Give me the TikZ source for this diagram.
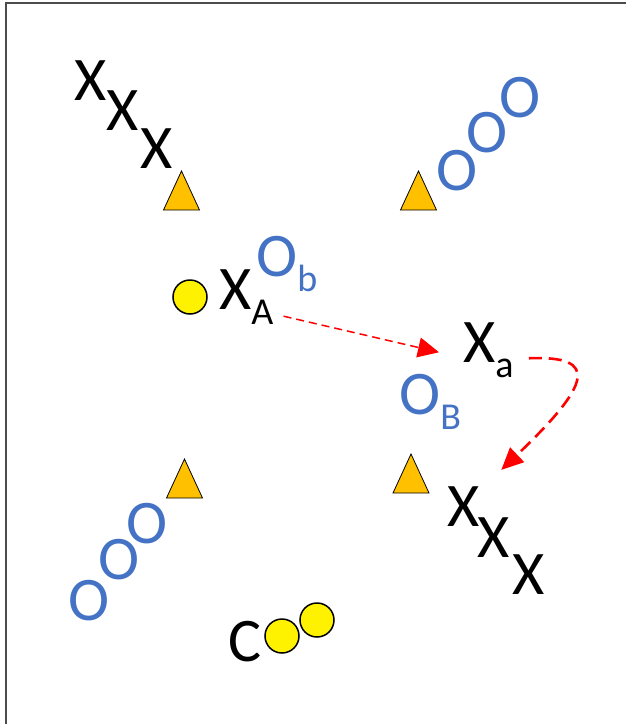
\documentclass[tikz,border=0pt]{standalone}
\usepackage{fontspec}
\setmainfont{Carlito}
\usepackage{xcolor}
\usepackage{tikz}
\usetikzlibrary{arrows.meta,positioning}

\definecolor{oblue}{HTML}{4472C4}
\definecolor{tgold}{HTML}{FFC000}
\definecolor{ared}{HTML}{FF0000}

% lowered small letter after a big one
\newcommand{\lowsub}[1]{\raisebox{-15pt}{\fontsize{38}{38}\selectfont #1}}

\begin{document}
\begin{tikzpicture}[
    x=1pt, y=-1pt,
    lett/.style={font=\fontsize{62}{62}\selectfont, inner sep=0pt},
    xlett/.style={lett, text=black},
    olett/.style={lett, text=oblue},
    tri/.style={draw=black, line width=0.8pt, fill=tgold, line join=miter},
    dot/.style={circle, draw=black, line width=1.5pt, fill=yellow, minimum size=34pt, inner sep=0pt},
    arrowA/.style={-{Triangle[length=21pt,width=20pt]}, ared, line width=1.5pt, dash pattern=on 8pt off 5pt},
    arrowB/.style={-{Triangle[length=22pt,width=20pt]}, ared, line width=2.6pt, dash pattern=on 13pt off 7pt}
]
    \useasboundingbox (0,0) rectangle (626,724);
    \clip (0,0) rectangle (626,724);
    \draw[line width=1.6pt, black!70] (6,3) rectangle (660,760);

    % groups of letters
    \node[xlett] (tlx1) at (91,81) {X};
    \node[xlett] (tlx2) at (123,111) {X};
    \node[xlett] (tlx3) at (157,149) {X};
    \node[olett] (tro1) at (457,171) {O};
    \node[olett] (tro2) at (487,133) {O};
    \node[olett] (tro3) at (520,98) {O};
    \node[olett] (blo1) at (89,601) {O};
    \node[olett] (blo2) at (119,560) {O};
    \node[olett] (blo3) at (147,524) {O};
    \node[xlett] (brx1) at (464,507) {X};
    \node[xlett] (brx2) at (494,538) {X};
    \node[xlett] (brx3) at (529,575) {X};

    % triangles
    \foreach \tx/\ty in {181.5/210, 418.5/210, 184.5/498, 411/493}
        \draw[tri] (\tx-18,\ty) -- (\tx,\ty-39) -- (\tx+18,\ty) -- cycle;

    % labelled letters
    \node[dot] (dotA) at (190,297) {};
    \node[xlett, anchor=base west] (xA) at (219,309) {X\lowsub{A}};
    \node[olett, anchor=base west] (ob) at (256,276) {O\lowsub{b}};
    \node[xlett, anchor=base west] (xa) at (463,362) {X\lowsub{a}};
    \node[olett, anchor=base west] (oB) at (399,414) {O\lowsub{B}};

    % C with two dots
    \node[xlett] (cc) at (245,642) {C};
    \node[dot] (dotc1) at (282,636) {};
    \node[dot] (dotc2) at (317,620) {};

    \draw[arrowA] ([shift={(10pt,8pt)}]xA.south east) -- ([shift={(-24pt,-2.5pt)}]xa.west);
    \draw[arrowB] ([shift={(15pt,-8.5pt)}]xa.east) .. controls +(72pt,3pt) and +(89pt,85pt) .. ([shift={(21pt,17pt)}]brx1.north east);
\end{tikzpicture}
\end{document}
